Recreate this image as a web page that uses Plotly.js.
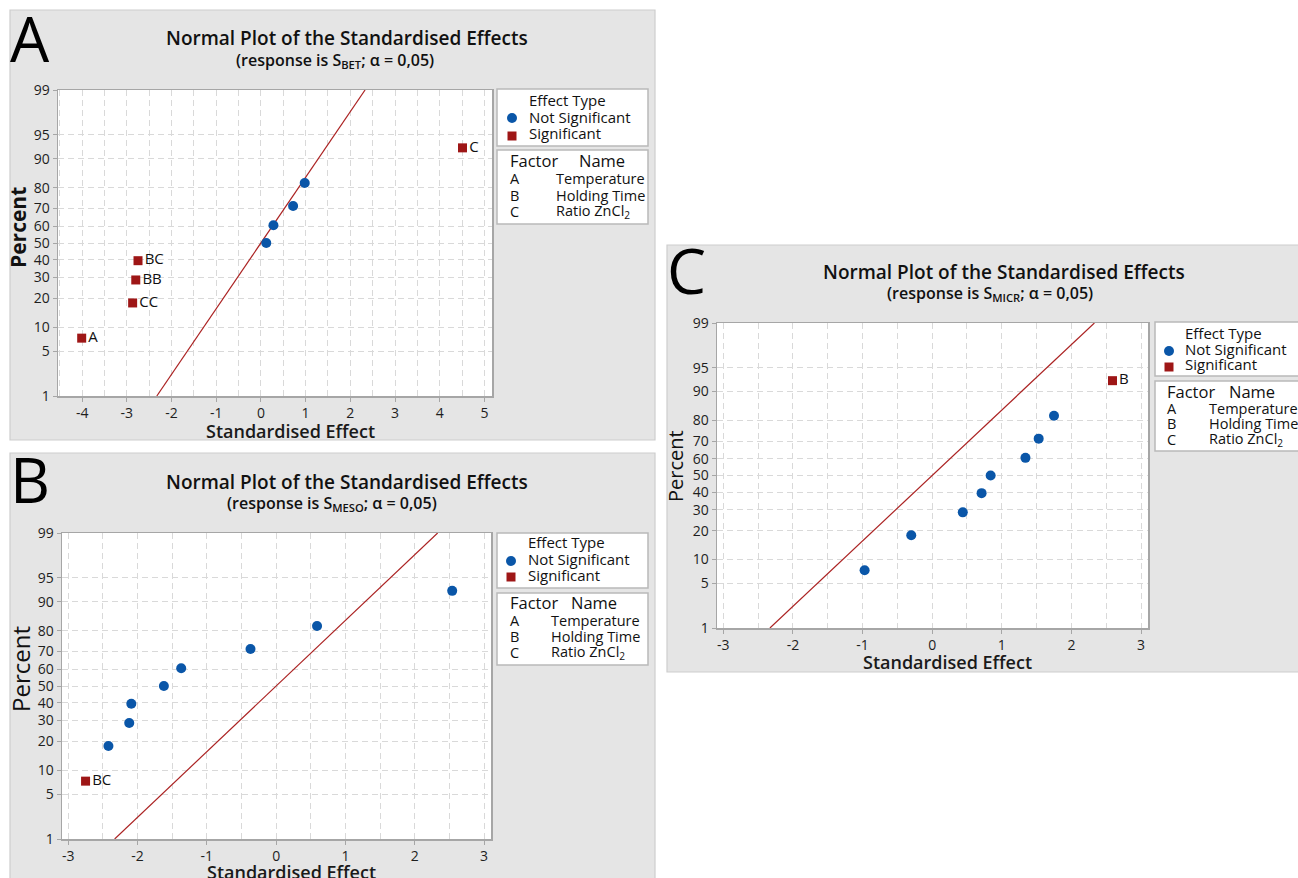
<!DOCTYPE html>
<html>
<head>
<meta charset="utf-8">
<script src="https://cdn.plot.ly/plotly-3.0.1.min.js"></script>
<style>
html,body{margin:0;padding:0;background:#ffffff;}
#chart{width:1298px;height:878px;}
</style>
</head>
<body>
<div id="chart"></div>
<script>
// ---------------- data ----------------
const percentTicks = [1, 5, 10, 20, 30, 40, 50, 60, 70, 80, 90, 95, 99];
const refLineEffect = [-2.33, 2.33];
const refLinePercent = [1, 99];

const xTicksA = [-4, -3, -2, -1, 0, 1, 2, 3, 4, 5];
const nsEffectA = [0.12, 0.28, 0.72, 0.98];
const nsPercentA = [50, 60.6, 71.3, 81.9];
const sigEffectA = [-4.01, -2.87, -2.80, -2.75, 4.51];
const sigPercentA = [7.4, 18.1, 28.7, 39.4, 92.6];
const sigTermA = ['A', 'CC', 'BB', 'BC', 'C'];

const xTicksB = [-3, -2, -1, 0, 1, 2, 3];
const nsEffectB = [-2.42, -2.12, -2.09, -1.62, -1.37, -0.37, 0.59, 2.54];
const nsPercentB = [18.1, 28.7, 39.4, 50, 60.6, 71.3, 81.9, 92.6];
const sigEffectB = [-2.75];
const sigPercentB = [7.4];
const sigTermB = ['BC'];

const xTicksC = [-3, -2, -1, 0, 1, 2, 3];
const nsEffectC = [-0.97, -0.30, 0.44, 0.71, 0.84, 1.34, 1.53, 1.75];
const nsPercentC = [7.4, 18.1, 28.7, 39.4, 50, 60.6, 71.3, 81.9];
const sigEffectC = [2.59];
const sigPercentC = [92.6];
const sigTermC = ['B'];

const panelLetters = ['A', 'B', 'C'];
const responses = ['BET', 'MESO', 'MICR'];
const chartTitle = 'Normal Plot of the Standardised Effects';
const xTitle = 'Standardised Effect';
const yTitle = 'Percent';
const legendTitle = 'Effect Type';
const legendNames = ['Not Significant', 'Significant'];
const factorHeader = ['Factor', 'Name'];
const factorLetters = ['A', 'B', 'C'];
const factorNames = ['Temperature', 'Holding Time', 'Ratio ZnCl<sub>2</sub>'];

// ---------------- helpers ----------------
const W = 1298, H = 878;
const FONT = '"Open Sans", "Noto Sans", sans-serif';
const BLUE = '#0a56a8', RED = '#9e1616', LINE = '#ab2222';
const px = v => v / W;
const py = v => 1 - v / H;

// inverse standard normal CDF (Acklam) – the normal-probability axis transform
function probit(p) {
  const a = [-3.969683028665376e+01, 2.209460984245205e+02, -2.759285104469687e+02, 1.383577518672690e+02, -3.066479806614716e+01, 2.506628277459239e+00];
  const b = [-5.447609879822406e+01, 1.615858368580409e+02, -1.556989798598866e+02, 6.680131188771804e+01, -1.328068155288572e+01];
  const c = [-7.784894002430293e-03, -3.223964580411365e-01, -2.400758277161838e+00, -2.549732539343734e+00, 4.374664141464968e+00, 2.938163982698783e+00];
  const d = [7.784695709041462e-03, 3.224671290700398e-01, 2.445134137142996e+00, 3.754408661907416e+00];
  const plow = 0.02425, phigh = 1 - plow;
  let q, r;
  if (p < plow) {
    q = Math.sqrt(-2 * Math.log(p));
    return (((((c[0]*q+c[1])*q+c[2])*q+c[3])*q+c[4])*q+c[5]) / ((((d[0]*q+d[1])*q+d[2])*q+d[3])*q+1);
  }
  if (p > phigh) {
    q = Math.sqrt(-2 * Math.log(1 - p));
    return -(((((c[0]*q+c[1])*q+c[2])*q+c[3])*q+c[4])*q+c[5]) / ((((d[0]*q+d[1])*q+d[2])*q+d[3])*q+1);
  }
  q = p - 0.5; r = q * q;
  return (((((a[0]*r+a[1])*r+a[2])*r+a[3])*r+a[4])*r+a[5])*q / (((((b[0]*r+b[1])*r+b[2])*r+b[3])*r+b[4])*r+1);
}
const z = pcts => pcts.map(v => probit(v / 100));

// ---------------- panel geometry (pixels) ----------------
const geo = [
  { box:[10,10,655,440], plot:[58,90,492,396], xr:[-4.54,5.17], xt:xTicksA,
    letter:[8,38], title:[347,38], sub:[335,61],
    xTitlePos:[290,431], yTitlePos:[18,228], yFont:{size:21, weight:700},
    eBox:[497,89,648,146], eTextX:527, eY:[100,117,133], mX:512, mY:[118,136],
    fBox:[497,150,648,224], fHeadY:161, fHeadX:[508,577], fRowY:[179,195,211], fRowX:[508,554] },
  { box:[10,453,655,884], plot:[62,533,491,839], xr:[-3.09,3.10], xt:xTicksB,
    letter:[8,479], title:[347,482], sub:[332,503],
    xTitlePos:[291,872], yTitlePos:[20,669], yFont:{size:24, weight:400},
    eBox:[497,533,648,588], eTextX:526, eY:[542,559,575], mX:511, mY:[561,577],
    fBox:[497,593,648,665], fHeadY:602, fHeadX:[508,569], fRowY:[620,636,652], fRowX:[508,549] },
  { box:[667,245,1304,672], plot:[717,323,1148,628], xr:[-3.09,3.10], xt:xTicksC,
    letter:[665,270], title:[1004,272], sub:[990,293],
    xTitlePos:[947,662], yTitlePos:[675,466], yFont:{size:20, weight:400},
    eBox:[1155,322,1306,376], eTextX:1183, eY:[333,349,364], mX:1169, mY:[351,367],
    fBox:[1155,381,1306,451], fHeadY:391, fHeadX:[1165,1227], fRowY:[408,423,439], fRowX:[1165,1207] }
];

const series = [
  { nsX:nsEffectA, nsP:nsPercentA, sX:sigEffectA, sP:sigPercentA, sT:sigTermA },
  { nsX:nsEffectB, nsP:nsPercentB, sX:sigEffectB, sP:sigPercentB, sT:sigTermB },
  { nsX:nsEffectC, nsP:nsPercentC, sX:sigEffectC, sP:sigPercentC, sT:sigTermC }
];

const traces = [];
const shapes = [];
const annotations = [];
const layout = {
  width: W, height: H,
  margin: { l:0, r:0, t:0, b:0, autoexpand:false },
  paper_bgcolor: '#ffffff',
  plot_bgcolor: 'rgba(0,0,0,0)',
  showlegend: false,
  hovermode: false,
  font: { family: FONT, color: '#1a1a1a' }
};

function rect(b, fill, lineColor, lw, layer) {
  return { type:'rect', xref:'paper', yref:'paper', layer: layer || 'below',
    x0:px(b[0]), x1:px(b[2]), y0:py(b[3]), y1:py(b[1]),
    fillcolor: fill, line:{ color: lineColor, width: lw } };
}
function ann(text, x, y, opt) {
  return Object.assign({ text, x:px(x), y:py(y), xref:'paper', yref:'paper',
    showarrow:false, xanchor:'left', yanchor:'middle',
    font:{ family:FONT, size:14, color:'#111111' } }, opt || {});
}

const yTickVals = z(percentTicks);
const yTickText = percentTicks.map(String);
const yRange = [probit(0.01), probit(0.99)];

geo.forEach((g, i) => {
  const n = i === 0 ? '' : String(i + 1);
  const xa = 'x' + n, ya = 'y' + n;
  const s = series[i];

  // panel background, plot area
  shapes.push(rect(g.box, '#e5e5e5', '#cdcdcd', 1.2, 'below'));
  shapes.push(rect(g.plot, '#ffffff', 'rgba(0,0,0,0)', 0, 'below'));

  const common = {
    showline:true, mirror:true, linecolor:'#a6a6a6', linewidth:1.5,
    ticks:'outside', ticklen:4, tickwidth:1, tickcolor:'#a6a6a6',
    showgrid:true, gridcolor:'#d9d9d9', gridwidth:1, griddash:'6px,4px',
    zeroline:false, fixedrange:true,
    tickfont:{ family:FONT, size:14, color:'#1e1e1e' }
  };
  layout['xaxis' + n] = Object.assign({}, common, {
    anchor: ya, domain:[px(g.plot[0]), px(g.plot[2])], range:g.xr,
    tickmode:'array', tickvals:g.xt, ticktext:g.xt.map(String),
    minor:{ dtick:0.5, tick0:0, showgrid:true, gridcolor:'#d9d9d9', gridwidth:1, griddash:'6px,4px', ticks:'' }
  });
  layout['yaxis' + n] = Object.assign({}, common, {
    anchor: xa, domain:[py(g.plot[3]), py(g.plot[1])], range:yRange,
    tickmode:'array', tickvals:yTickVals, ticktext:yTickText
  });

  // reference line
  traces.push({ type:'scatter', mode:'lines', xaxis:xa, yaxis:ya,
    x:refLineEffect, y:z(refLinePercent), line:{ color:LINE, width:1.2 }, showlegend:false });
  // not significant effects
  traces.push({ type:'scatter', mode:'markers', name:legendNames[0], xaxis:xa, yaxis:ya,
    x:s.nsX, y:z(s.nsP), marker:{ symbol:'circle', size:10, color:BLUE }, showlegend:false });
  // significant effects with term labels
  traces.push({ type:'scatter', mode:'markers+text', name:legendNames[1], xaxis:xa, yaxis:ya,
    x:s.sX, y:z(s.sP), text:s.sT, textposition:'middle right',
    textfont:{ family:FONT, size:15, color:'#111111' },
    marker:{ symbol:'square', size:9, color:RED }, showlegend:false });

  // axis titles
  annotations.push(ann(xTitle, g.xTitlePos[0], g.xTitlePos[1],
    { xanchor:'center', font:{ family:FONT, size:18, weight:600, color:'#1a1a1a' } }));
  annotations.push(ann(yTitle, g.yTitlePos[0], g.yTitlePos[1],
    { xanchor:'center', textangle:-90, font:Object.assign({ family:FONT, color:'#111111' }, g.yFont) }));

  // big panel letter
  annotations.push(ann(panelLetters[i], g.letter[0], g.letter[1],
    { height:58, valign:'middle', font:{ family:FONT, size:62, color:'#000000' } }));
  // titles
  annotations.push(ann(chartTitle, g.title[0], g.title[1],
    { xanchor:'center', font:{ family:FONT, size:19, weight:600, color:'#111111' } }));
  annotations.push(ann('(response is S<sub>' + responses[i] + '</sub>; α = 0,05)', g.sub[0], g.sub[1],
    { xanchor:'center', font:{ family:FONT, size:16, weight:600, color:'#111111' } }));

  // effect-type key
  shapes.push(rect(g.eBox, '#ffffff', '#b9b9b9', 1.5, 'above'));
  const keyFont = { family:FONT, size:15, color:'#111111' };
  annotations.push(ann(legendTitle, g.eTextX, g.eY[0], { font:keyFont }));
  annotations.push(ann(legendNames[0], g.eTextX, g.eY[1], { font:keyFont }));
  annotations.push(ann(legendNames[1], g.eTextX, g.eY[2], { font:keyFont }));
  shapes.push({ type:'circle', xref:'paper', yref:'paper', layer:'above',
    x0:px(g.mX - 5), x1:px(g.mX + 5), y0:py(g.mY[0] + 5), y1:py(g.mY[0] - 5),
    fillcolor:BLUE, line:{ width:0 } });
  shapes.push({ type:'rect', xref:'paper', yref:'paper', layer:'above',
    x0:px(g.mX - 4.5), x1:px(g.mX + 4.5), y0:py(g.mY[1] + 4.5), y1:py(g.mY[1] - 4.5),
    fillcolor:RED, line:{ width:0 } });

  // factor key
  shapes.push(rect(g.fBox, '#ffffff', '#b9b9b9', 1.5, 'above'));
  const headFont = { family:FONT, size:16.5, color:'#111111' };
  const rowFont = { family:FONT, size:14.5, color:'#111111' };
  annotations.push(ann(factorHeader[0], g.fHeadX[0], g.fHeadY, { font:headFont }));
  annotations.push(ann(factorHeader[1], g.fHeadX[1], g.fHeadY, { font:headFont }));
  factorLetters.forEach((f, k) => {
    annotations.push(ann(f, g.fRowX[0], g.fRowY[k], { font:rowFont }));
    annotations.push(ann(factorNames[k], g.fRowX[1], g.fRowY[k], { font:rowFont }));
  });
});

layout.shapes = shapes;
layout.annotations = annotations;

Plotly.newPlot('chart', traces, layout, { staticPlot:true, displayModeBar:false, responsive:false });
</script>
</body>
</html>
